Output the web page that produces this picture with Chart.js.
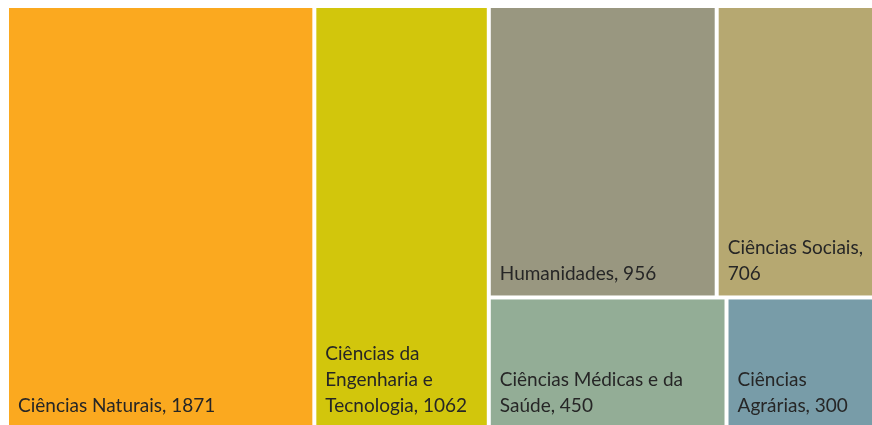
<!DOCTYPE html>
<html>
<head>
<meta charset="utf-8">
<script src="https://cdn.jsdelivr.net/npm/chart.js@4.4.0/dist/chart.umd.min.js"></script>
<style>
    html, body { margin: 0; padding: 0; background: #fff; overflow: hidden; }
    #wrap { position: absolute; left: 7px; top: 6px; width: 878px; height: 423px; }
</style>
</head>
<body>
<div id="wrap"><canvas id="treemapChart"></canvas></div>
<script>
// Areas (Excel-style treemap), labels as they are wrapped in the picture
const categories = [
    ['Ciências Naturais, 1871'],
    ['Ciências da', 'Engenharia e', 'Tecnologia, 1062'],
    ['Humanidades, 956'],
    ['Ciências Sociais,', '706'],
    ['Ciências Médicas e da', 'Saúde, 450'],
    ['Ciências', 'Agrárias, 300']
];
const values = [1871, 1062, 956, 706, 450, 300];
const colors = ['#FBA91F', '#D2C60C', '#999780', '#B6A871', '#93AD96', '#789CA8'];

// columns -> rows -> item indexes (arrangement as seen in the picture)
const columns = [[[0]], [[1]], [[2, 3], [4, 5]]];

function layoutCells() {
    const cells = [];
    let x = 0;
    columns.forEach(function(rows) {
        const colSum = rows.flat().reduce((a, i) => a + values[i], 0);
        let y = 0;
        rows.forEach(function(row) {
            const rowSum = row.reduce((a, i) => a + values[i], 0);
            const h = rowSum / colSum;
            let rx = x;
            row.forEach(function(i) {
                const w = values[i] / rowSum * colSum;
                cells[i] = { x: rx, y: y, x1: rx + w, y1: y + h };
                rx += w;
            });
            y += h;
        });
        x += colSum;
    });
    return cells;
}

const total = values.reduce((a, b) => a + b, 0);
const cells = layoutCells();

const treemapPlugin = {
    id: 'treemapCells',
    beforeDatasetsDraw(chart) {
        const ctx = chart.ctx;
        const xs = chart.scales.x, ys = chart.scales.y;
        const gap = 2;
        cells.forEach(function(c, i) {
            const left = xs.getPixelForValue(c.x) + gap;
            const right = xs.getPixelForValue(c.x1) - gap;
            const top = ys.getPixelForValue(c.y) + gap;
            const bottom = ys.getPixelForValue(c.y1) - gap;
            ctx.save();
            ctx.fillStyle = colors[i];
            ctx.fillRect(left, top, right - left, bottom - top);
            ctx.font = '19px Lato';
            ctx.fillStyle = '#262626';
            ctx.textBaseline = 'alphabetic';
            const lines = categories[i];
            const lineH = 26;
            lines.forEach(function(line, k) {
                const yy = bottom - 15 - (lines.length - 1 - k) * lineH;
                ctx.fillText(line, left + 9, yy);
            });
            ctx.restore();
        });
    }
};

new Chart(document.getElementById('treemapChart').getContext('2d'), {
    type: 'scatter',
    data: {
        datasets: [{
            label: 'Áreas',
            data: cells.map(c => ({ x: (c.x + c.x1) / 2, y: (c.y + c.y1) / 2 })),
            pointRadius: 0
        }]
    },
    options: {
        responsive: true,
        maintainAspectRatio: false,
        animation: false,
        layout: { padding: 0 },
        plugins: { legend: { display: false }, tooltip: { enabled: false } },
        scales: {
            x: { type: 'linear', min: 0, max: total, display: false },
            y: { type: 'linear', min: 0, max: 1, reverse: true, display: false }
        }
    },
    plugins: [treemapPlugin]
});
</script>
</body>
</html>
